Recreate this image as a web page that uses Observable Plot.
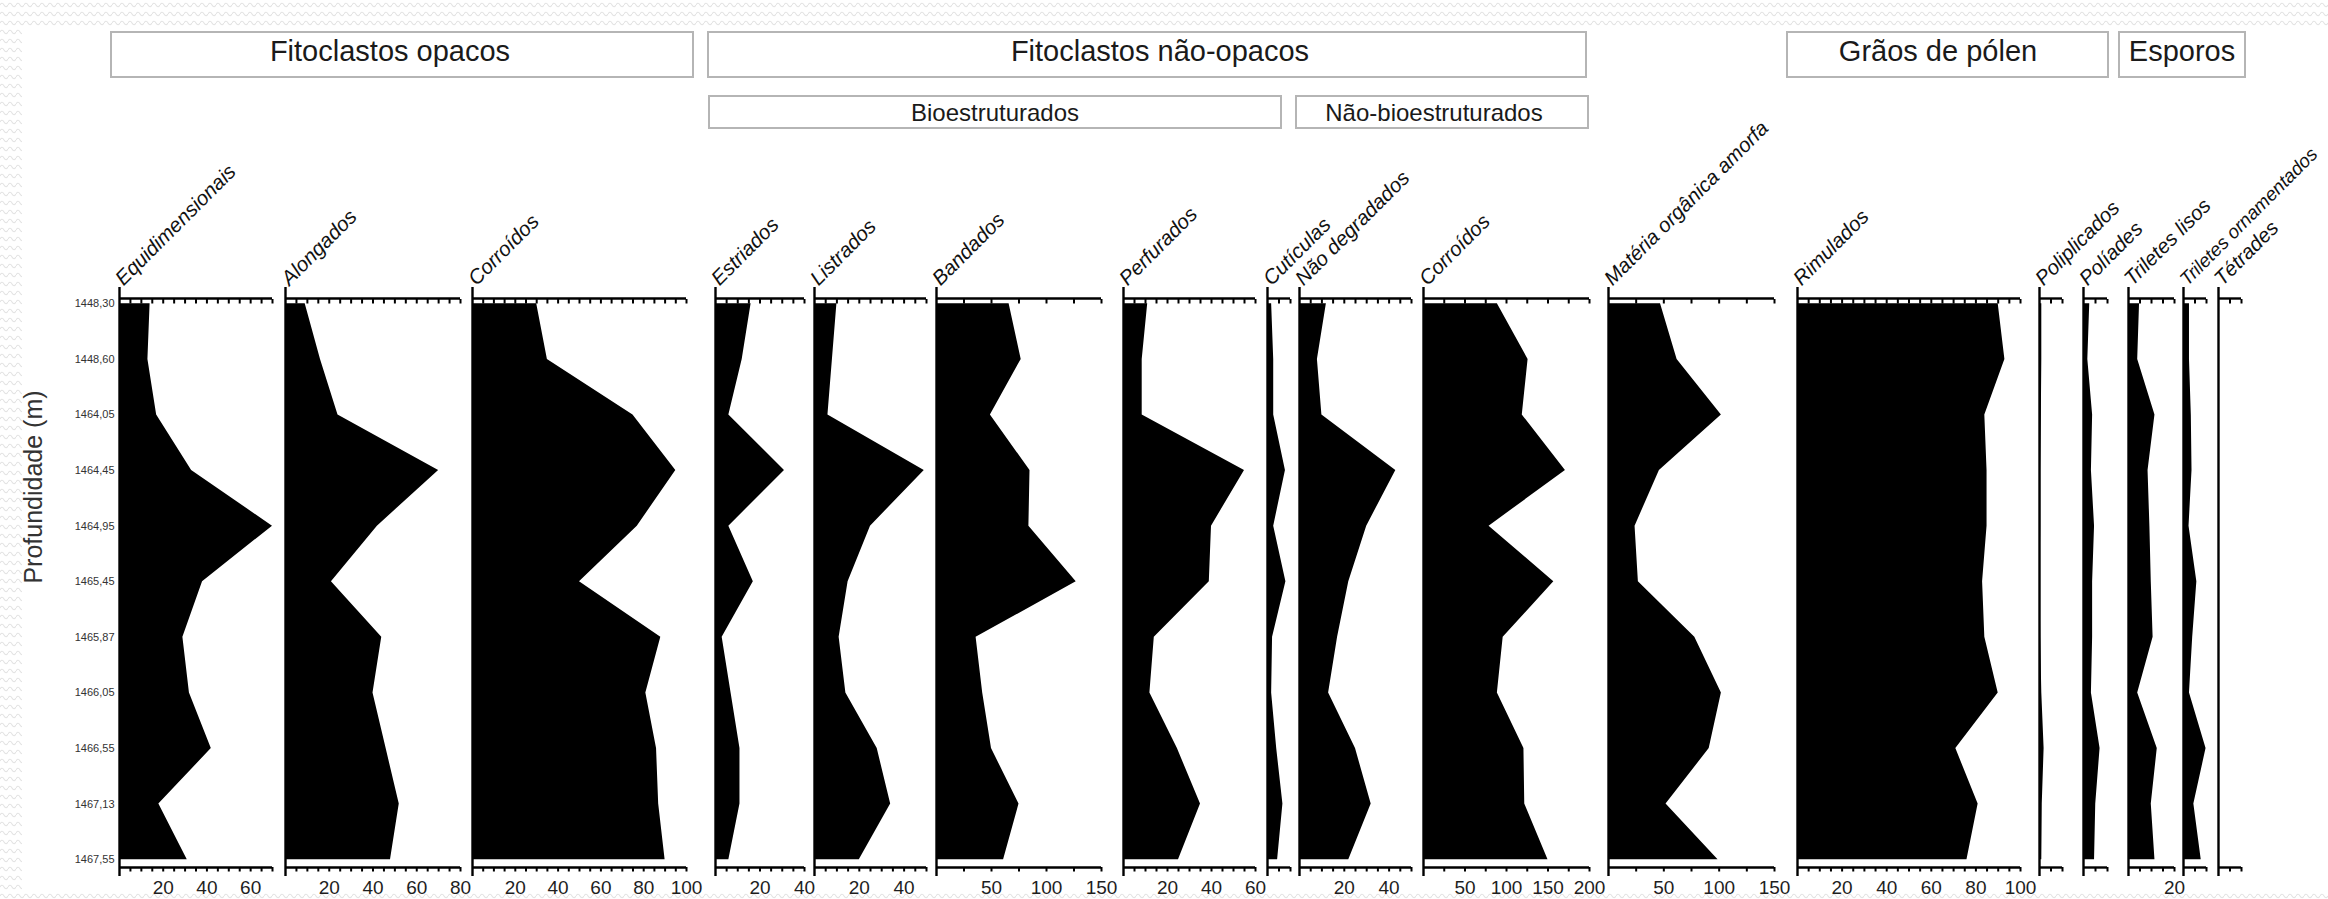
<!DOCTYPE html>
<html>
<head>
<meta charset="utf-8">
<script src="https://cdn.jsdelivr.net/npm/d3@7"></script>
<script src="https://cdn.jsdelivr.net/npm/@observablehq/plot@0.6"></script>
<style>
html, body { margin: 0; padding: 0; }
body {
  width: 2328px; height: 899px; overflow: hidden;
  background-color: #ffffff;
  background-image: url("data:image/svg+xml,%3Csvg xmlns='http://www.w3.org/2000/svg' width='8' height='9'%3E%3Cpath d='M0 5 Q2 1.5 4 5 T8 5' fill='none' stroke='%23e3e3e3' stroke-width='1.1'/%3E%3C/svg%3E");
  font-family: "Liberation Sans", Arial, sans-serif;
}
#chart { position: relative; width: 2328px; height: 899px; }
.sheet { position: absolute; left: 22px; top: 28px; right: 0; bottom: 6px; background: #ffffff; }
.panel { position: absolute; top: 0; }
.overlay { position: absolute; left: 0; top: 0; pointer-events: none; }
</style>
</head>
<body>
<div id="chart"><div class="sheet"></div></div>
<script>
// ---------- DATA ----------
const depths = ["1448,30","1448,60","1464,05","1464,45","1464,95","1465,45","1465,87","1466,05","1466,55","1467,13","1467,55"];

const columnNames = ["Equidimensionais","Alongados","Corroídos","Estriados","Listrados","Bandados","Perfurados",
  "Cutículas","Não degradados","Corroídos","Matéria orgânica amorfa","Rimulados","Poliplicados","Políades",
  "Triletes lisos","Triletes ornamentados","Tétrades"];

const equidimensionais   = [14, 13, 17, 33, 70, 38, 29, 32, 42, 18, 31];
const alongados          = [9, 16, 24, 70, 42, 21, 44, 40, 46, 52, 48];
const corroidosOpacos    = [30, 35, 75, 95, 77, 50, 88, 81, 86, 87, 90];
const estriados          = [16, 12, 6, 31, 6, 17, 3, 7, 11, 11, 6];
const listrados          = [10, 8, 6, 49, 25, 15, 11, 14, 28, 34, 20];
const bandados           = [66, 77, 49, 85, 84, 127, 36, 42, 50, 75, 61];
const perfurados         = [11, 8.5, 8.5, 55, 40, 39, 14, 12, 24.5, 35, 25];
const cuticulas          = [1.8, 2.7, 2.7, 7.8, 2.7, 8, 2.2, 1.8, 4, 6.7, 4.4];
const naoDegradados      = [12, 8, 10, 43, 30, 22, 17, 13, 25, 32, 22];
const corroidosNaoOpacos = [89, 126, 119, 171, 79, 157, 96, 89, 121, 122, 150];
const materiaAmorfa      = [47, 62, 102, 46, 24, 27, 78, 102, 91, 52, 99];
const rimulados          = [90, 93, 84, 85, 85, 83, 84, 90, 71, 81, 76];
const poliplicados       = [1, 1, 0.8, 0.5, 0.5, 0.3, 0.5, 1, 2, 1.2, 1];
const poliades           = [2.6, 1.8, 3.8, 3.3, 4.6, 3.8, 3.8, 3.3, 6.9, 5.1, 4.6];
const triletesLisos      = [4.8, 4, 11.5, 8.5, 9.3, 9.9, 10.7, 4, 12.5, 9.9, 11.5];
const triletesOrnam      = [2.6, 2.6, 3.4, 3.7, 2.4, 5.8, 4, 2.6, 9.8, 4.5, 7.7];
const tetrades           = [0, 0, 0, 0, 0, 0, 0, 0, 0, 0, 0];

const seriesValues = [equidimensionais, alongados, corroidosOpacos, estriados, listrados, bandados, perfurados,
  cuticulas, naoDegradados, corroidosNaoOpacos, materiaAmorfa, rimulados, poliplicados, poliades,
  triletesLisos, triletesOrnam, tetrades];

const tickLabels = [[20,40,60],[20,40,60,80],[20,40,60,80,100],[20,40],[20,40],[50,100,150],[20,40,60],
  [],[20,40],[50,100,150,200],[50,100,150],[20,40,60,80,100],[],[],[20],[],[]];

const groupTitles = ["Fitoclastos opacos","Fitoclastos não-opacos","Grãos de pólen","Esporos"];
const subTitles = ["Bioestruturados","Não-bioestruturados"];
const yTitle = "Profundidade (m)";

// ---------- LAYOUT ----------
const panelLayout = [
  {x0:119,  x1:272,  max:70,  step:5},
  {x0:285,  x1:460,  max:80,  step:5},
  {x0:472,  x1:686,  max:100, step:5},
  {x0:715,  x1:804,  max:40,  step:5},
  {x0:814,  x1:926,  max:50,  step:5},
  {x0:936,  x1:1101, max:150, step:25},
  {x0:1123, x1:1255, max:60,  step:5},
  {x0:1267, x1:1290, max:10,  step:5},
  {x0:1299, x1:1411, max:50,  step:5},
  {x0:1423, x1:1589, max:200, step:25},
  {x0:1608, x1:1774, max:150, step:25},
  {x0:1797, x1:2020, max:100, step:5},
  {x0:2039, x1:2062, max:10,  step:5},
  {x0:2083, x1:2107, max:10,  step:5},
  {x0:2128, x1:2174, max:20,  step:5},
  {x0:2183, x1:2206, max:10,  step:5, labelSize: 18.8},
  {x0:2218, x1:2241, max:10,  step:5}
];
const H = 899, frameTop = 298, frameBottom = 867;
const yDomain = [-0.095, 10.14];
const font = "'Liberation Sans', Arial, sans-serif";

const chart = document.getElementById("chart");

panelLayout.forEach((L, i) => {
  const mL = i === 0 ? L.x0 : 20;
  const mR = 26;
  const w = L.x1 - L.x0;
  const data = seriesValues[i].map((v, k) => ({k, v}));
  const ticks = d3.range(L.step, L.max + 1e-9, L.step);
  const marks = [
    Plot.areaX(data, {x: "v", y: "k", fill: "black", curve: "linear"}),
    Plot.ruleX([0], {stroke: "black", strokeWidth: 2.4, insetTop: -11, insetBottom: -9}),
    Plot.ruleY([yDomain[0]], {stroke: "black", strokeWidth: 2.4}),
    Plot.ruleY([yDomain[1]], {stroke: "black", strokeWidth: 2.4}),
    Plot.axisX({anchor: "top", ticks, tickSize: -4.5, tickFormat: () => "", label: null, strokeWidth: 2}),
    Plot.axisX({anchor: "bottom", ticks, tickSize: 4.5, tickFormat: () => "", label: null, strokeWidth: 2}),
    Plot.axisX({anchor: "bottom", ticks: tickLabels[i], tickSize: 0, tickPadding: 13, label: null,
      fontSize: 19, fill: "#1e1e1e"}),
    Plot.text([columnNames[i]], {frameAnchor: "top-left", dx: 4, dy: -12, rotate: -45, textAnchor: "start",
      lineAnchor: "bottom", fontSize: L.labelSize || 20.5, fontStyle: "italic", fill: "#111"})
  ];
  if (i === 0) {
    marks.push(Plot.axisY({anchor: "left", ticks: d3.range(depths.length), tickFormat: k => depths[k],
      tickSize: 0, tickPadding: 5, fontSize: 11, label: null, fill: "#333"}));
  }
  const svg = Plot.plot({
    width: mL + w + mR,
    height: H,
    marginLeft: mL, marginRight: mR, marginTop: frameTop, marginBottom: H - frameBottom,
    x: {domain: [0, L.max]},
    y: {domain: yDomain, reverse: true, axis: null},
    style: {background: "transparent", overflow: "visible", fontFamily: font, maxWidth: "none"},
    marks
  });
  svg.classList.add("panel");
  svg.style.left = (L.x0 - mL) + "px";
  chart.appendChild(svg);
});

// ---------- Overlay: group boxes, titles, y title ----------
const groupBoxes = [
  {x0:111, x1:693, cx:390},
  {x0:708, x1:1586, cx:1160},
  {x0:1787, x1:2108, cx:1938},
  {x0:2119, x1:2245, cx:2182}
];
const subBoxes = [
  {x0:709, x1:1281, cx:995},
  {x0:1296, x1:1588, cx:1434}
];
const overlay = d3.select(chart).append("svg")
  .attr("class", "overlay").attr("width", 2328).attr("height", H)
  .style("font-family", font);

groupTitles.forEach((t, i) => {
  const b = groupBoxes[i];
  overlay.append("rect").attr("x", b.x0).attr("y", 32).attr("width", b.x1 - b.x0).attr("height", 45)
    .attr("fill", "white").attr("stroke", "#b5b5b5").attr("stroke-width", 2);
  overlay.append("text").attr("x", b.cx).attr("y", 61).attr("text-anchor", "middle")
    .attr("font-size", 29).attr("fill", "#1a1a1a").text(t);
});
subTitles.forEach((t, i) => {
  const b = subBoxes[i];
  overlay.append("rect").attr("x", b.x0).attr("y", 96).attr("width", b.x1 - b.x0).attr("height", 32)
    .attr("fill", "white").attr("stroke", "#b5b5b5").attr("stroke-width", 2);
  overlay.append("text").attr("x", b.cx).attr("y", 121).attr("text-anchor", "middle")
    .attr("font-size", 24).attr("fill", "#1a1a1a").text(t);
});
overlay.append("text").attr("transform", "translate(42,487) rotate(-90)").attr("text-anchor", "middle")
  .attr("font-size", 25).attr("fill", "#333").text(yTitle);
</script>
</body>
</html>
